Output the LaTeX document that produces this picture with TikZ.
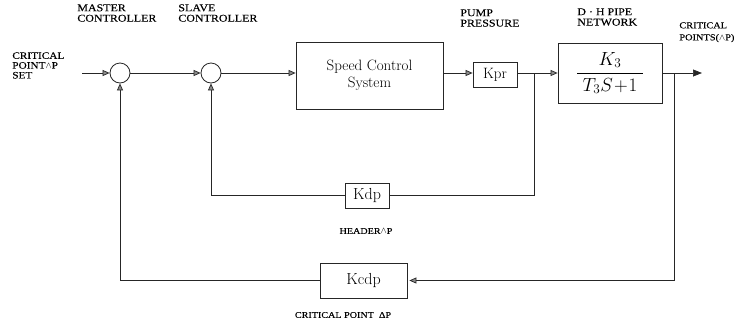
\documentclass[tikz,border=0pt]{standalone}
\usepackage{fix-cm}
\usepackage{amsmath}
\usepackage{fontspec}
\newfontfamily\labfont[FakeStretch=1.15,FakeBold=0.15]{Liberation Serif}
\usetikzlibrary{arrows.meta}
\begin{document}
\begin{tikzpicture}[x=1pt,y=-1pt,
  line width=0.7pt, draw=black!85,
  box/.style={draw=black!85, line width=0.8pt, inner sep=0pt, align=center},
  sumpt/.style={draw=black!85, circle, minimum size=20pt, inner sep=0pt, line width=0.8pt},
  arr/.style={-{Triangle[length=7pt,width=6pt,fill=black!45]}},
  lab/.style={inner sep=0pt, align=left, text=black},
  fsz/.style={font=\labfont\fontsize{#1}{#1}\selectfont}
]
\useasboundingbox (0,0) rectangle (742,327);

% summing points
\node[sumpt] (c1) at (120,73) {};
\node[sumpt] (c2) at (211,73) {};

% blocks
\node[box, minimum width=147pt, minimum height=67pt,
      font=\fontsize{15}{17}\selectfont] (sp) at (369.5,75.5) {Speed Control\\System};
\node[box, minimum width=44pt, minimum height=25pt,
      font=\fontsize{15}{15}\selectfont] (kpr) at (495,74.5) {Kpr};
\node[box, minimum width=104pt, minimum height=60pt,
      font=\fontsize{19}{19}\selectfont] (dh) at (610,73)
      {$\dfrac{K_{3}}{\;T_{3}S\!+\!1\;}$};
\node[box, minimum width=44pt, minimum height=25pt,
      font=\fontsize{16}{16}\selectfont] (kdp) at (367,195.5) {Kdp};
\node[box, minimum width=87pt, minimum height=35pt,
      font=\fontsize{16}{16}\selectfont] (kcdp) at (363.5,280.5) {Kcdp};

% free ends and branch points
\coordinate (in) at (82,73);
\coordinate (out) at (702,73);
\coordinate (b1) at (534,73);
\coordinate (b2) at (674,73);

% forward path
\draw[arr] (in) -- (c1);
\draw[arr] (c1) -- (c2);
\draw[arr] (c2) -- (c2 -| sp.west);
\draw[arr] (sp.east |- c2) -- (kpr.west |- c2);
\draw[arr] (kpr.east |- c2) -- (dh.west);
\draw[-{Triangle[length=9pt,width=7pt]}] (dh.east) -- (out);

% inner loop
\draw (b1) |- (kdp);
\draw[arr] (kdp) -| (c2);

% outer loop
\draw[arr, shorten >=2pt] (b2) |- (kcdp);
\draw[arr] (kcdp) -| (c1);

% labels
\node[lab, fsz=9.8, anchor=north west] (tin) at (12,52)
  {CRITICAL\\POINT{\small$\wedge$}P\\SET};
\node[lab, fsz=10.4, anchor=north west] (tmc) at (77,4) {MASTER\\CONTROLLER};
\node[lab, fsz=10.4, anchor=north west] (tsc) at (178,4) {SLAVE\\CONTROLLER};
\node[lab, fsz=10.4, anchor=north west] (tpp) at (460,9) {PUMP\\PRESSURE};
\node[lab, fsz=10.4, anchor=north west] (tnet) at (577,8) {D · H PIPE\\NETWORK};
\node[lab, font=\labfont\fontsize{9}{12}\selectfont, anchor=north west] (tcp) at (679,22)
  {CRITICAL\\POINTS({\small$\wedge$}P)};
\node[lab, fsz=8.8] (thd) at (366,231) {HEADER{\small$\wedge$}P};
\node[lab, fsz=8.8] (tcd) at (343,315) {CRITICAL POINT\ \ ΔP};
\end{tikzpicture}
\end{document}
